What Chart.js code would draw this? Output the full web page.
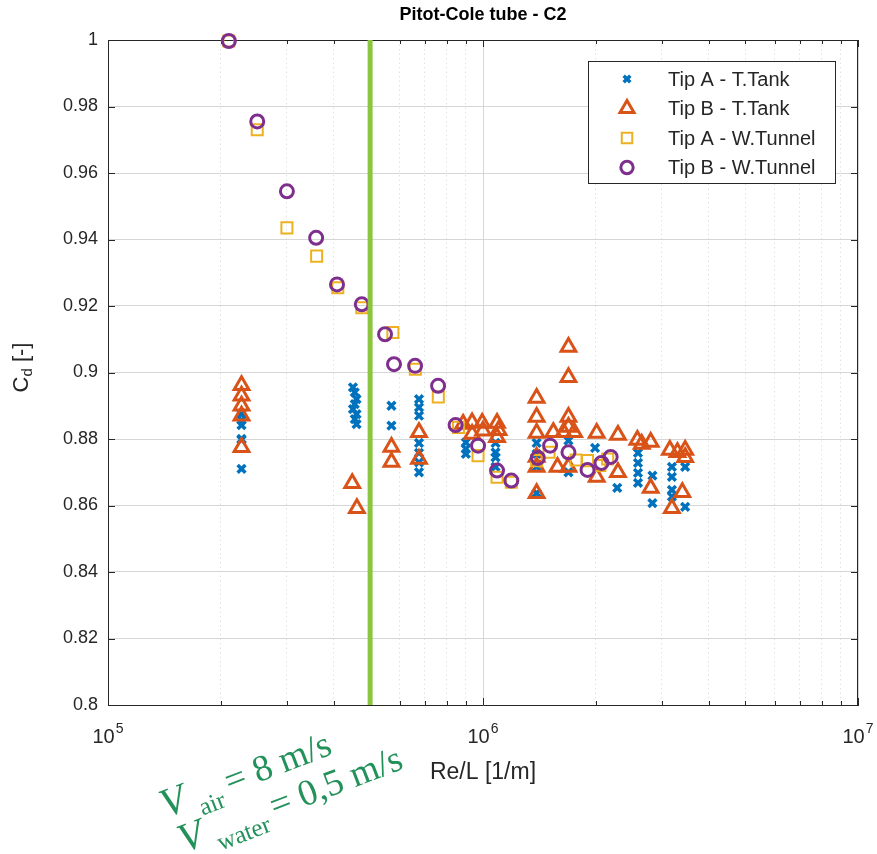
<!DOCTYPE html>
<html><head><meta charset="utf-8">
<script src="https://cdn.jsdelivr.net/npm/chart.js@4.4.1/dist/chart.umd.min.js"></script>
<style>html,body{margin:0;padding:0;background:#fff}#wrap{width:877px;height:854px}</style>
</head><body><div id="wrap"><canvas id="c" width="877" height="854"></canvas></div>
<script>
// ---------------- data ----------------
const chartTitle = 'Pitot-Cole tube - C2';
const xAxisTitle = 'Re/L [1/m]';
const seriesNames = ['Tip A - T.Tank', 'Tip B - T.Tank', 'Tip A - W.Tunnel', 'Tip B - W.Tunnel'];
const xTickBase = '10';
const xTickExponents = ['5', '6', '7'];
const yTickMin = 0.8, yTickMax = 1.0, yTickStep = 0.02;
const refLineRe = 5e5;
const noteAir = ['V', 'air', '= 8 m/s'];
const noteWater = ['V', 'water', '= 0,5 m/s'];

// Tip A - T.Tank
const tipA_TT_re = [2.27e5,2.27e5,2.27e5,2.27e5,2.27e5,2.27e5,
  4.5e5,4.55e5,4.6e5,4.55e5,4.5e5,4.6e5,4.55e5,4.6e5,
  5.7e5,5.7e5,
  6.75e5,6.75e5,6.75e5,6.75e5,6.75e5,6.75e5,6.75e5,
  9.0e5,9.0e5,9.0e5,1.08e6,1.08e6,1.08e6,1.08e6,
  1.39e6,1.39e6,1.39e6,1.39e6,1.69e6,1.69e6,
  1.99e6,2.28e6,2.59e6,2.59e6,2.59e6,2.59e6,2.83e6,2.83e6,
  3.19e6,3.19e6,3.19e6,3.19e6,3.46e6,3.46e6];
const tipA_TT_cd = [0.8875,0.8857,0.8842,0.8800,0.8797,0.8710,
  0.8955,0.8940,0.8920,0.8905,0.8890,0.8875,0.8860,0.8845,
  0.8900,0.8840,
  0.8920,0.8895,0.8870,0.8788,0.8758,0.8730,0.8700,
  0.8790,0.8770,0.8755,0.8788,0.8760,0.8745,0.8716,
  0.8788,0.8755,0.8716,0.8637,0.8795,0.8700,
  0.8773,0.8653,0.8758,0.8728,0.8698,0.8668,0.8690,0.8607,
  0.8716,0.8686,0.8647,0.8627,0.8716,0.8596];

// Tip B - T.Tank
const tipB_TT_re = [2.27e5,2.27e5,2.27e5,2.27e5,2.27e5,
  4.48e5,4.61e5,5.7e5,5.7e5,6.75e5,6.75e5,
  8.85e5,9.35e5,9.35e5,9.95e5,1.0e6,1.09e6,1.1e6,1.09e6,
  1.39e6,1.39e6,1.39e6,1.39e6,1.39e6,1.39e6,
  1.69e6,1.69e6,1.69e6,1.69e6,1.64e6,1.75e6,1.69e6,1.54e6,1.58e6,
  2.01e6,2.01e6,2.29e6,2.29e6,2.58e6,2.65e6,2.8e6,2.8e6,
  3.15e6,3.3e6,3.19e6,3.46e6,3.46e6,3.4e6];
const tipB_TT_cd = [0.8962,0.8930,0.8900,0.8870,0.8775,
  0.8667,0.8592,0.8776,0.8731,0.8820,0.8740,
  0.8845,0.8850,0.8815,0.8848,0.8825,0.8848,0.8826,0.8805,
  0.8923,0.8866,0.8818,0.8746,0.8716,0.8637,
  0.9077,0.8986,0.8866,0.8836,0.8820,0.8820,0.8716,0.8820,0.8716,
  0.8818,0.8686,0.8812,0.8700,0.8797,0.8785,0.8791,0.8653,
  0.8767,0.8760,0.8592,0.8767,0.8745,0.8640];

// Tip A - W.Tunnel
const tipA_WT_re = [2.1e5,2.5e5,3.0e5,3.6e5,4.1e5,4.75e5,5.75e5,6.6e5,7.6e5,8.6e5,9.7e5,1.09e6,1.19e6,
  1.39e6,1.5e6,1.77e6,1.9e6,2.05e6,2.15e6];
const tipA_WT_cd = [0.9997,0.9730,0.9435,0.9350,0.9255,0.9195,0.9120,0.9010,0.8926,0.8835,0.8750,0.8685,0.8670,
  0.8735,0.8760,0.8737,0.8735,0.8720,0.8740];

// Tip B - W.Tunnel
const tipB_WT_re = [2.1e5,2.5e5,3.0e5,3.59e5,4.08e5,4.75e5,5.48e5,5.79e5,6.59e5,7.59e5,8.45e5,9.7e5,1.09e6,1.19e6,
  1.40e6,1.51e6,1.69e6,1.90e6,2.07e6,2.19e6];
const tipB_WT_cd = [0.9997,0.9755,0.9545,0.9405,0.9265,0.9205,0.9115,0.9025,0.9020,0.8960,0.8842,0.8780,0.8705,0.8675,
  0.8743,0.8780,0.8760,0.8707,0.8728,0.8746];

// ---------------- chart ----------------
const pts = (xs, ys) => xs.map((x, i) => ({x, y: ys[i]}));
const isMajor = v => Math.abs(Math.log10(v) - Math.round(Math.log10(v))) < 1e-9;
const AXIS = '#262626';
const FONT = '"Liberation Sans", Arial, sans-serif';
const SERIF = '"Liberation Serif", "Times New Roman", serif';

const styles = [
  {pointStyle: 'crossRot', radius: 5.5, borderWidth: 3.5, color: '#0072BD'},
  {pointStyle: 'triangle', radius: 8.5, borderWidth: 3, color: '#D95319'},
  {pointStyle: 'rect', radius: 7.8, borderWidth: 2, color: '#EDB120'},
  {pointStyle: 'circle', radius: 6.5, borderWidth: 3, color: '#7E2F8E'}
];
const seriesData = [pts(tipA_TT_re, tipA_TT_cd), pts(tipB_TT_re, tipB_TT_cd), pts(tipA_WT_re, tipA_WT_cd), pts(tipB_WT_re, tipB_WT_cd)];

const datasets = seriesData.map((d, i) => ({
  type: 'scatter', label: seriesNames[i], data: d,
  pointStyle: styles[i].pointStyle, pointRadius: styles[i].radius,
  pointBorderWidth: styles[i].borderWidth, borderColor: styles[i].color,
  pointBackgroundColor: 'rgba(0,0,0,0)', backgroundColor: 'rgba(0,0,0,0)',
  order: 4 - i, clip: false
}));
datasets.push({
  type: 'line', label: '_ref', data: [{x: refLineRe, y: yTickMin}, {x: refLineRe, y: yTickMax}],
  borderColor: '#8CC63F', borderWidth: 5, pointRadius: 0, order: -1, clip: false
});

const framePlugin = {
  id: 'frame',
  beforeDatasetsDraw(chart) {
    const {ctx, chartArea: a, scales: {x, y}} = chart;
    ctx.save();
    ctx.strokeStyle = AXIS; ctx.lineWidth = 1;
    ctx.beginPath();
    ctx.moveTo(a.left, a.top + 0.5); ctx.lineTo(a.right, a.top + 0.5);
    ctx.moveTo(a.right - 0.5, a.top); ctx.lineTo(a.right - 0.5, a.bottom);
    ctx.stroke();
    ctx.beginPath();
    x.ticks.forEach(t => {
      const px = Math.round(x.getPixelForValue(t.value)) + 0.5;
      const L = isMajor(t.value) ? 7 : 4;
      ctx.moveTo(px, a.bottom); ctx.lineTo(px, a.bottom - L);
      ctx.moveTo(px, a.top); ctx.lineTo(px, a.top + L);
    });
    y.ticks.forEach(t => {
      const py = Math.round(y.getPixelForValue(t.value)) + 0.5;
      ctx.moveTo(a.left, py); ctx.lineTo(a.left + 7, py);
      ctx.moveTo(a.right, py); ctx.lineTo(a.right - 7, py);
    });
    ctx.stroke();
    ctx.restore();
  },
  afterDraw(chart) {
    const {ctx, chartArea: a, scales: {x}} = chart;
    // x tick labels with superscript exponents
    ctx.save();
    ctx.fillStyle = AXIS; ctx.textBaseline = 'alphabetic';
    x.ticks.filter(t => isMajor(t.value)).forEach(t => {
      const e = xTickExponents[Math.round(Math.log10(t.value)) - 5];
      const px = x.getPixelForValue(t.value);
      ctx.font = '20px ' + FONT; const wb = ctx.measureText(xTickBase).width;
      ctx.font = '14px ' + FONT; const we = ctx.measureText(e).width;
      const x0 = px - (wb + we + 1) / 2;
      ctx.font = '20px ' + FONT; ctx.fillText(xTickBase, x0, a.bottom + 38);
      ctx.font = '14px ' + FONT; ctx.fillText(e, x0 + wb + 1, a.bottom + 28);
    });
    ctx.restore();

    // y-axis title with subscript
    ctx.save();
    ctx.translate(22, (a.top + a.bottom) / 2 - 5);
    ctx.rotate(-Math.PI / 2);
    ctx.fillStyle = AXIS; ctx.textBaseline = 'middle';
    const f1 = '22px ' + FONT, f2 = '15px ' + FONT;
    ctx.font = f1; const wC = ctx.measureText('C').width, wR = ctx.measureText(' [-]').width;
    ctx.font = f2; const wd = ctx.measureText('d').width;
    let cx = -(wC + wd + wR) / 2;
    ctx.font = f1; ctx.fillText('C', cx, 0); cx += wC;
    ctx.font = f2; ctx.fillText('d', cx, 6); cx += wd;
    ctx.font = f1; ctx.fillText(' [-]', cx, 0);
    ctx.restore();

    // legend box
    const lx = a.right - 270, ly = a.top + 21, lw = 247, lh = 122;
    ctx.save();
    ctx.fillStyle = '#fff'; ctx.fillRect(lx, ly, lw, lh);
    ctx.strokeStyle = AXIS; ctx.lineWidth = 1; ctx.strokeRect(lx + 0.5, ly + 0.5, lw, lh);
    seriesNames.forEach((name, i) => {
      const yy = ly + 18 + i * 29.5;
      const s = styles[i];
      ctx.strokeStyle = s.color; ctx.fillStyle = 'rgba(0,0,0,0)'; ctx.lineWidth = s.borderWidth;
      Chart.helpers.drawPoint(ctx, {pointStyle: s.pointStyle, radius: s.radius * (i === 0 ? 0.85 : 0.95), rotation: 0, borderWidth: s.borderWidth}, lx + 39, yy);
      ctx.fillStyle = AXIS; ctx.font = '20px ' + FONT; ctx.textBaseline = 'middle';
      ctx.fillText(name, lx + 80, yy + 1);
    });
    ctx.restore();

    // green annotations
    const drawNote = (parts, x0, y0) => {
      ctx.save();
      ctx.translate(x0, y0); ctx.rotate(-21 * Math.PI / 180);
      ctx.fillStyle = '#23915A'; ctx.textBaseline = 'alphabetic';
      let cxx = 0;
      ctx.font = 'italic 41px ' + SERIF; ctx.fillText(parts[0], cxx, 0); cxx += ctx.measureText(parts[0]).width + 10;
      ctx.font = '25px ' + SERIF; ctx.fillText(parts[1], cxx, 11); cxx += ctx.measureText(parts[1]).width + 7;
      ctx.font = '37px ' + SERIF; ctx.fillText(parts[2], cxx, 0);
      ctx.restore();
    };
    drawNote(noteAir, 166, 818);
    drawNote(noteWater, 184, 853);
  }
};

new Chart(document.getElementById('c'), {
  data: {datasets},
  options: {
    responsive: false, animation: false, devicePixelRatio: 1, events: [],
    layout: {padding: {left: 0, right: 19, top: 0, bottom: 67}},
    plugins: {
      legend: {display: false}, tooltip: {enabled: false},
      title: {display: true, text: chartTitle, fullSize: false, color: '#000',
        font: {family: FONT, size: 18, weight: 'bold'}, padding: {top: 4.5, bottom: 13.9}}
    },
    scales: {
      x: {
        type: 'logarithmic', position: 'bottom', min: 1e5, max: 1e7,
        afterFit: s => { s.height = 82; s.paddingLeft = 0; s.paddingRight = 0; },
        afterBuildTicks: s => {
          const t = [];
          for (let e = 5; e <= 7; e++) for (let m = 1; m <= 9; m++) { const v = m * Math.pow(10, e); if (v <= 1e7 * 1.0001) t.push({value: v}); }
          s.ticks = t;
        },
        ticks: {display: false, autoSkip: false, maxRotation: 0, minRotation: 0},
        grid: {drawTicks: false, color: c => (c.tick && !isMajor(c.tick.value)) ? '#e2e2e2' : '#d6d6d6', lineWidth: 1},
        border: {color: AXIS, width: 1, dash: c => (c.tick && !isMajor(c.tick.value)) ? [1.5, 3] : []},
        title: {display: true, text: xAxisTitle, color: AXIS, font: {family: FONT, size: 23}, padding: {top: 2, bottom: 1}}
      },
      y: {
        type: 'linear', position: 'left', min: yTickMin, max: yTickMax,
        afterFit: s => { s.width = 108; },
        ticks: {stepSize: yTickStep, padding: 10, color: AXIS, font: {family: FONT, size: 18},
          callback: v => String(parseFloat(v.toFixed(2)))},
        grid: {drawTicks: false, color: '#d6d6d6', lineWidth: 1},
        border: {color: AXIS, width: 1}
      }
    }
  },
  plugins: [framePlugin]
});
</script>
</body></html>
